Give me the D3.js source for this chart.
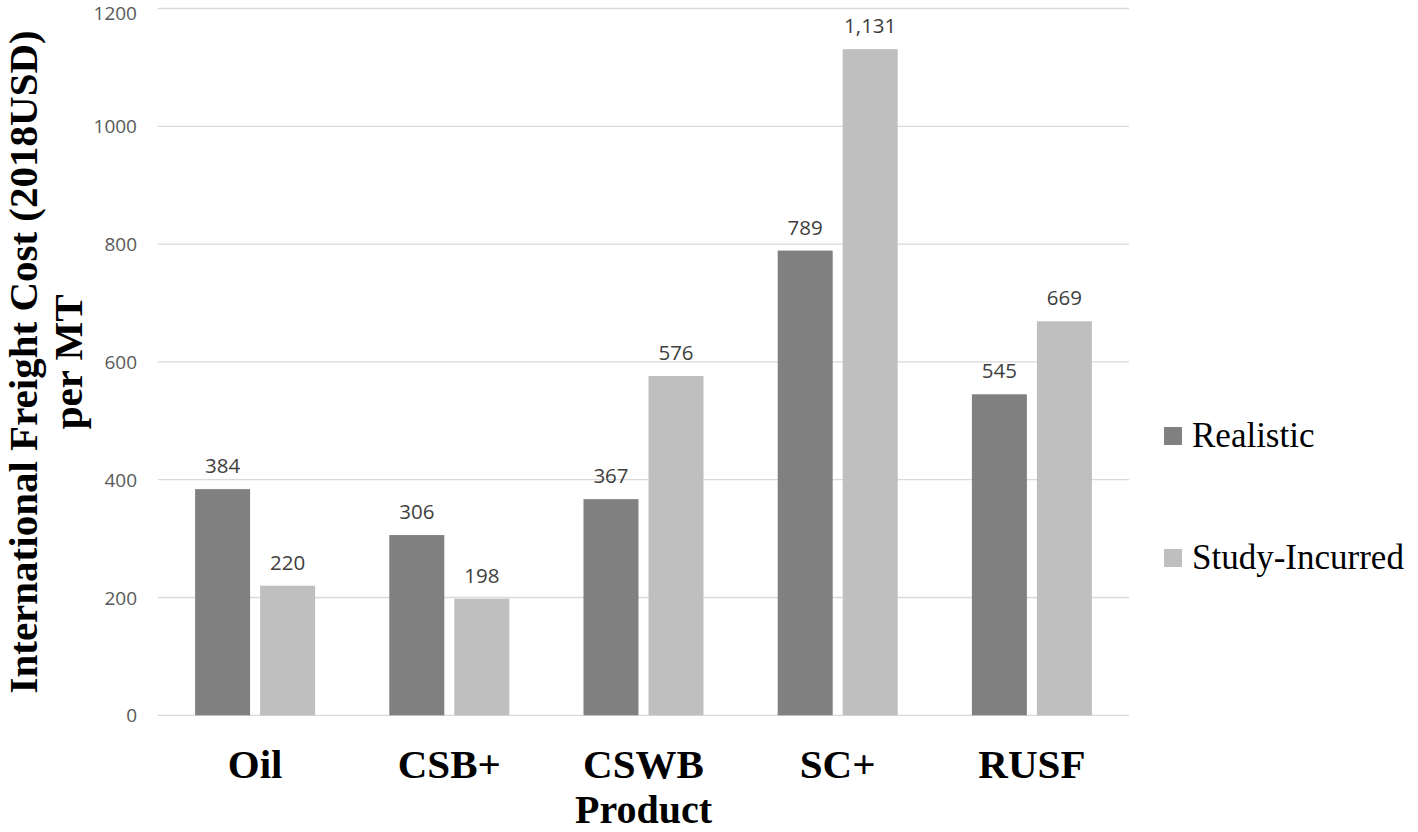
<!DOCTYPE html>
<html>
<head>
<meta charset="utf-8">
<script src="https://cdn.jsdelivr.net/npm/d3@7"></script>
<style>
  html, body { margin: 0; padding: 0; background: #fff; }
  svg { display: block; }
</style>
</head>
<body>
<svg id="chart" width="1418" height="832"></svg>
<script>
const categories = ["Oil", "CSB+", "CSWB", "SC+", "RUSF"];
const seriesNames = ["Realistic", "Study-Incurred"];
const realistic = [384, 306, 367, 789, 545];
const studyIncurred = [220, 198, 576, 1131, 669];
const yTicks = [0, 200, 400, 600, 800, 1000, 1200];
const colors = ["#808080", "#BFBFBF"];

const svg = d3.select("#chart");
const plot = { left: 158, right: 1129, top: 8.5, bottom: 715.3 };

const y = d3.scaleLinear().domain([0, 1200]).range([plot.bottom, plot.top]);
const x0 = d3.scaleBand().domain(categories).range([plot.left, plot.right])
  .paddingInner(0.382).paddingOuter(0.191);
const x1 = d3.scaleBand().domain(seriesNames).range([0, x0.bandwidth()])
  .paddingInner(0.154).paddingOuter(0);
const color = d3.scaleOrdinal().domain(seriesNames).range(colors);

// gridlines
svg.append("g").selectAll("line").data(yTicks).join("line")
  .attr("x1", plot.left).attr("x2", plot.right)
  .attr("y1", d => y(d)).attr("y2", d => y(d))
  .attr("stroke", "#D9D9D9").attr("stroke-width", 1.3);

// y tick labels
svg.append("g").selectAll("text").data(yTicks).join("text")
  .attr("x", 137).attr("y", d => Math.max(y(d), 13))
  .attr("text-anchor", "end").attr("dominant-baseline", "central")
  .attr("font-family", "'Open Sans', sans-serif").attr("font-size", 19)
  .attr("fill", "#595959")
  .text(d => d);

const data = categories.map((c, i) => ({
  cat: c,
  vals: [
    { s: seriesNames[0], v: realistic[i] },
    { s: seriesNames[1], v: studyIncurred[i] }
  ]
}));

const groups = svg.append("g").selectAll("g").data(data).join("g")
  .attr("transform", d => `translate(${x0(d.cat)},0)`);

groups.selectAll("rect").data(d => d.vals).join("rect")
  .attr("x", d => x1(d.s)).attr("width", x1.bandwidth())
  .attr("y", d => y(d.v)).attr("height", d => y(0) - y(d.v))
  .attr("fill", d => color(d.s));

groups.selectAll("text.val").data(d => d.vals).join("text")
  .attr("class", "val")
  .attr("x", d => x1(d.s) + x1.bandwidth() / 2)
  .attr("y", d => y(d.v) - 16)
  .attr("text-anchor", "middle")
  .attr("font-family", "'Open Sans', sans-serif").attr("font-size", 20.5)
  .attr("fill", "#404040")
  .text(d => d3.format(",")(d.v));

// category labels
svg.append("g").selectAll("text").data(categories).join("text")
  .attr("x", d => x0(d) + x0.bandwidth() / 2).attr("y", 778)
  .attr("text-anchor", "middle")
  .attr("font-family", "'Liberation Serif', 'Times New Roman', serif")
  .attr("font-weight", "bold").attr("font-size", 41)
  .attr("fill", "#000")
  .text(d => d);

// x axis title
svg.append("text")
  .attr("x", (plot.left + plot.right) / 2).attr("y", 823)
  .attr("text-anchor", "middle")
  .attr("font-family", "'Liberation Serif', 'Times New Roman', serif")
  .attr("font-weight", "bold").attr("font-size", 40)
  .text("Product");

// y axis title (two lines)
const yTitle = ["International Freight Cost (2018USD)", "per MT"];
const yTitleX = [37, 82];
svg.append("g").selectAll("text").data(yTitle).join("text")
  .attr("transform", (d, i) => `translate(${yTitleX[i]},${(plot.top + plot.bottom) / 2}) rotate(-90)`)
  .attr("text-anchor", "middle")
  .attr("font-family", "'Liberation Serif', 'Times New Roman', serif")
  .attr("font-weight", "bold").attr("font-size", 41)
  .text(d => d);

// legend
const legendY = [436, 558];
const legend = svg.append("g").selectAll("g").data(seriesNames).join("g")
  .attr("transform", (d, i) => `translate(1164,${legendY[i]})`);
legend.append("rect")
  .attr("x", 0).attr("y", -9).attr("width", 18).attr("height", 18)
  .attr("fill", d => color(d));
legend.append("text")
  .attr("x", 28).attr("y", 11)
  .attr("font-family", "'Liberation Serif', 'Times New Roman', serif")
  .attr("font-size", 35).attr("fill", "#000")
  .text(d => d);
</script>
</body>
</html>
